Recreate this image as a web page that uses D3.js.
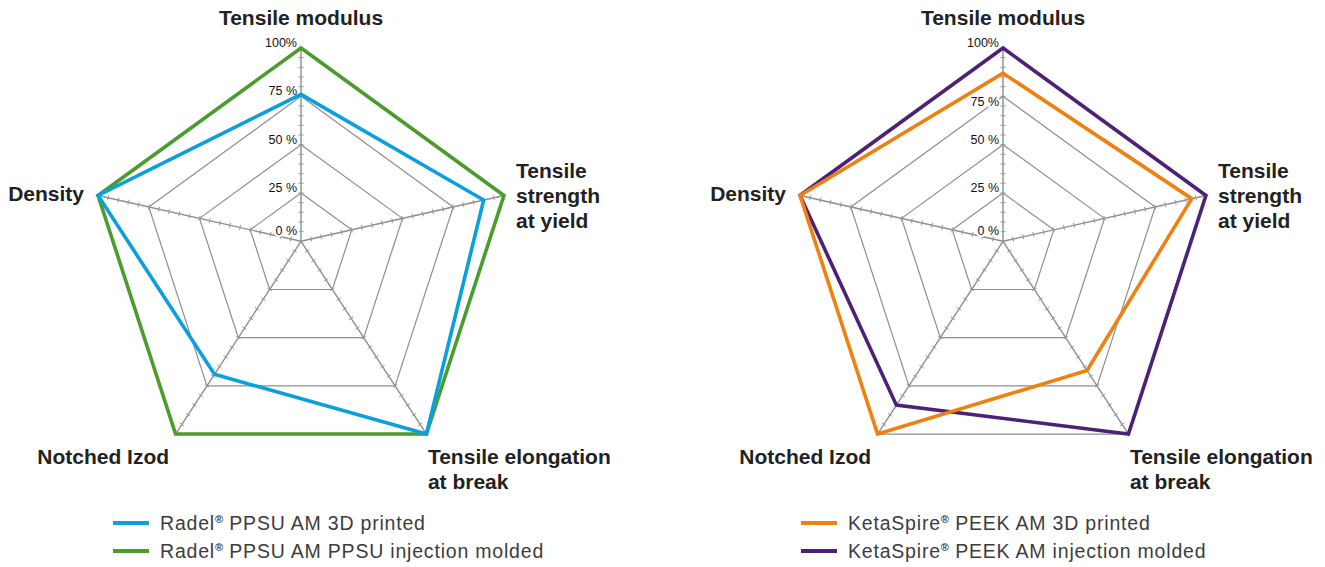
<!DOCTYPE html>
<html>
<head>
<meta charset="utf-8">
<script src="https://cdn.jsdelivr.net/npm/d3@7"></script>
<style>
  body { margin: 0; background: #fff; }
  text { font-family: "Liberation Sans", Arial, sans-serif; }
  .axis-label { font-size: 21px; font-weight: bold; fill: #222; }
  .tick-label { font-size: 12.5px; fill: #111; paint-order: stroke; stroke: #fff; stroke-width: 4px; stroke-linejoin: round; }
  .legend-text { font-size: 19.5px; fill: #3d3d3d; letter-spacing: 0.8px; }
  .legend-text .sup { font-size: 11px; font-weight: bold; letter-spacing: 0; }
</style>
</head>
<body>
<svg id="chart" width="1325" height="567"></svg>
<script>
// axes, clockwise from the top
var axes = ["Tensile modulus", "Tensile strength at yield", "Tensile elongation at break", "Notched Izod", "Density"];
var ringValues = [25, 50, 75, 100];
var tickLabels = ["0 %", "25 %", "50 %", "75 %", "100%"];
var tickLabelValues = [0, 25, 50, 75, 100];

// series values, same order as axes (%)
var radel3d = [76, 90, 100, 69, 100];
var radelMolded = [100, 100, 100, 100, 100];
var peek3d = [87, 93, 67, 100, 100];
var peekMolded = [100, 100, 100, 85, 100];

var radelNames = ["Radel", "PPSU AM 3D printed", "PPSU AM PPSU injection molded"];
var peekNames = ["KetaSpire", "PEEK AM 3D printed", "PEEK AM injection molded"];

var svg = d3.select("#chart");

// outer pentagon is regular, but the spokes start a bit above its centre
var R = 213.4, centreY = 261.4, originY = 241.3;
var frac = d3.scaleLinear().domain([0, 100]).range([0, 1]);

function offset(i) {
  var a = i * 2 * Math.PI / 5;
  return [R * Math.sin(a), -R * Math.cos(a) + (centreY - originY)];
}

// label placement relative to each outer vertex
var labelPos = [
  { dx: 0, dy: -23.5, anchor: "middle", lines: ["Tensile modulus"] },
  { dx: 12, dy: -17.5, anchor: "start", lines: ["Tensile", "strength", "at yield"] },
  { dx: 1.5, dy: 30, anchor: "start", lines: ["Tensile elongation", "at break"] },
  { dx: -6.5, dy: 30, anchor: "end", lines: ["Notched Izod"] },
  { dx: -14, dy: 5.5, anchor: "end", lines: ["Density"] }
];

function drawRadar(cx, series, colors, names, legendX, shift75) {
  var g = svg.append("g");
  var ox = cx, oy = originY;
  function pt(i, v) {
    var o = offset(i);
    return [ox + frac(v) * o[0], oy + frac(v) * o[1]];
  }

  // rings
  ringValues.forEach(function(v) {
    g.append("polygon")
      .attr("points", axes.map(function(d, i) { return pt(i, v).join(","); }).join(" "))
      .attr("fill", "none")
      .attr("stroke", "#8e8e8e")
      .attr("stroke-width", 1.2);
  });

  // spokes + ticks
  axes.forEach(function(d, i) {
    var end = pt(i, 100);
    g.append("line")
      .attr("x1", ox).attr("y1", oy).attr("x2", end[0]).attr("y2", end[1])
      .attr("stroke", "#8e8e8e").attr("stroke-width", 1.4);
    var o = offset(i), len = Math.sqrt(o[0] * o[0] + o[1] * o[1]);
    var px = -o[1] / len * 2.6, py = o[0] / len * 2.6;
    d3.range(5, 100, 5).forEach(function(v) {
      var p = pt(i, v);
      g.append("line")
        .attr("x1", p[0] - px).attr("y1", p[1] - py)
        .attr("x2", p[0] + px).attr("y2", p[1] + py)
        .attr("stroke", "#9a9a9a").attr("stroke-width", 1);
    });
  });

  // tick labels on top spoke
  tickLabelValues.forEach(function(v, k) {
    var p = pt(0, v);
    var dy = v === 0 ? -6 : -1;
    if (v === 75) dy += shift75;
    g.append("text")
      .attr("class", "tick-label")
      .attr("x", ox - 4).attr("y", p[1] + dy)
      .attr("text-anchor", "end")
      .text(tickLabels[k]);
  });

  // series, molded underneath
  var line = d3.line().curve(d3.curveLinearClosed);
  [1, 0].forEach(function(s) {
    g.append("path")
      .attr("d", line(series[s].map(function(v, i) { return pt(i, v); })))
      .attr("fill", "none")
      .attr("stroke", colors[s])
      .attr("stroke-width", 3.6)
      .attr("stroke-linejoin", "miter");
  });

  // axis labels
  labelPos.forEach(function(lp, i) {
    var v = pt(i, 100);
    var t = g.append("text")
      .attr("class", "axis-label")
      .attr("text-anchor", lp.anchor);
    lp.lines.forEach(function(l, j) {
      t.append("tspan").attr("x", v[0] + lp.dx).attr("y", v[1] + lp.dy + j * 25).text(l);
    });
  });

  // legend
  [0, 1].forEach(function(s) {
    var y = 523 + s * 28;
    g.append("line")
      .attr("x1", legendX).attr("x2", legendX + 36)
      .attr("y1", y).attr("y2", y)
      .attr("stroke", colors[s]).attr("stroke-width", 4);
    var t = g.append("text").attr("class", "legend-text")
      .attr("x", legendX + 47).attr("y", y + 7);
    t.append("tspan").text(names[0]);
    t.append("tspan").attr("class", "sup").attr("dy", -7).text("®");
    t.append("tspan").attr("dy", 7).text(" " + names[s + 1]);
  });
}

drawRadar(301, [radel3d, radelMolded], ["#0aa0dd", "#4a9c2d"], radelNames, 113, 0);
drawRadar(1003, [peek3d, peekMolded], ["#f08010", "#4d2175"], peekNames, 801, 11);
</script>
</body>
</html>
